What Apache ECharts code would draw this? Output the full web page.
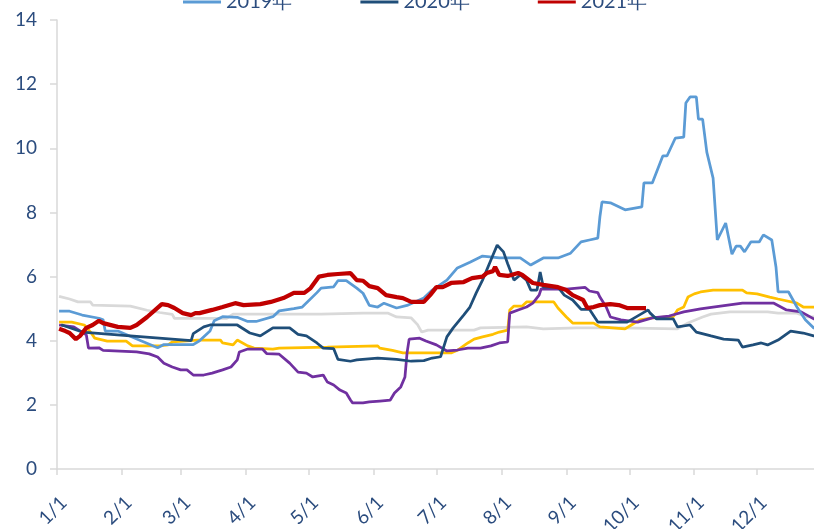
<!DOCTYPE html>
<html>
<head>
<meta charset="utf-8">
<script src="https://cdn.jsdelivr.net/npm/echarts@6/dist/echarts.min.js"></script>
<style>
  html, body { margin: 0; padding: 0; background: #fff; }
  #main { width: 814px; height: 529px; }
</style>
</head>
<body>
<div id="main"></div>
<script>
// 横轴：一年中的第几天（0 = 1/1），刻度在每月1日
var monthStartDays = [0, 31, 59, 90, 120, 151, 181, 212, 243, 273, 304, 334];
var monthLabels = ["1/1", "2/1", "3/1", "4/1", "5/1", "6/1", "7/1", "8/1", "9/1", "10/1", "11/1", "12/1"];
var yTicks = [0, 2, 4, 6, 8, 10, 12, 14];

// [天, 数值]
var data2016 = [[1,5.38],[6,5.3],[10,5.21],[16,5.21],[17,5.11],[35,5.08],[43,4.95],[49,4.88],[55,4.82],[56,4.7],[81,4.7],[84,4.83],[126,4.83],[146,4.86],[158,4.86],[162,4.74],[169,4.71],[172,4.5],[174,4.27],[177,4.33],[199,4.33],[202,4.4],[224,4.43],[232,4.37],[248,4.4],[269,4.4],[296,4.37],[301,4.55],[308,4.74],[312,4.83],[321,4.9],[339,4.9],[344,4.86],[353,4.86],[358,4.74],[364,4.74]];

var data2017 = [[1,4.58],[7,4.58],[13,4.49],[16,4.27],[18,4.08],[24,3.99],[33,3.99],[36,3.84],[49,3.84],[53,3.87],[55,3.96],[67,4.02],[78,4.02],[79,3.93],[84,3.87],[86,4.02],[91,3.84],[94,3.77],[103,3.74],[106,3.77],[129,3.8],[153,3.84],[154,3.77],[160,3.7],[165,3.62],[188,3.62],[191,3.7],[196,3.93],[199,4.05],[203,4.12],[208,4.2],[211,4.27],[215,4.33],[216,4.96],[218,5.08],[222,5.08],[224,5.21],[237,5.21],[239,5.02],[243,4.74],[246,4.55],[256,4.55],[259,4.43],[271,4.37],[274,4.49],[278,4.65],[284,4.71],[294,4.75],[296,4.96],[299,5.05],[301,5.36],[304,5.46],[307,5.52],[313,5.58],[327,5.58],[329,5.49],[334,5.46],[340,5.36],[344,5.3],[353,5.17],[356,5.05],[364,5.05]];

var data2018 = [[1,4.49],[8,4.43],[12,4.27],[14,4.18],[15,3.77],[20,3.78],[22,3.7],[38,3.65],[44,3.59],[48,3.49],[51,3.3],[55,3.18],[59,3.09],[62,3.09],[65,2.93],[70,2.93],[74,2.99],[79,3.09],[83,3.18],[86,3.4],[87,3.65],[91,3.74],[98,3.74],[100,3.6],[106,3.58],[111,3.3],[115,3.02],[119,2.99],[122,2.87],[127,2.93],[129,2.71],[132,2.62],[135,2.46],[138,2.37],[140,2.15],[141,2.06],[146,2.06],[149,2.09],[154,2.12],[159,2.15],[161,2.37],[164,2.56],[166,2.87],[167,3.62],[168,4.05],[173,4.08],[176,3.99],[181,3.87],[186,3.68],[191,3.71],[196,3.77],[202,3.77],[207,3.84],[211,3.93],[215,3.96],[216,4.86],[220,4.96],[224,5.05],[227,5.17],[230,5.42],[231,5.62],[237,5.61],[243,5.61],[252,5.66],[254,5.55],[258,5.5],[259,5.36],[262,5.05],[264,4.74],[269,4.65],[277,4.58],[284,4.71],[292,4.77],[299,4.9],[307,4.99],[313,5.05],[327,5.17],[342,5.17],[348,4.96],[355,4.9],[361,4.68],[364,4.65]];

var data2019 = [[1,4.92],[6,4.92],[12,4.8],[20,4.7],[22,4.65],[23,4.3],[29,4.3],[48,3.78],[51,3.88],[65,3.88],[68,4.0],[73,4.3],[75,4.62],[79,4.75],[86,4.73],[91,4.6],[95,4.6],[103,4.75],[106,4.93],[113,5.0],[117,5.05],[124,5.5],[126,5.64],[132,5.68],[134,5.87],[138,5.87],[143,5.64],[146,5.48],[149,5.1],[153,5.05],[156,5.17],[162,5.02],[167,5.1],[175,5.33],[179,5.58],[186,5.89],[191,6.27],[197,6.45],[203,6.64],[211,6.58],[221,6.58],[226,6.36],[232,6.58],[239,6.58],[245,6.73],[250,7.08],[254,7.14],[258,7.2],[259,7.86],[260,8.33],[264,8.3],[271,8.08],[279,8.17],[280,8.92],[284,8.92],[289,9.76],[291,9.76],[295,10.32],[299,10.35],[300,11.41],[302,11.6],[305,11.6],[306,10.91],[308,10.91],[310,9.88],[313,9.07],[315,7.14],[319,7.67],[322,6.7],[324,6.95],[326,6.95],[328,6.77],[331,7.08],[335,7.08],[337,7.3],[341,7.14],[343,6.3],[344,5.52],[349,5.52],[353,5.05],[357,4.65],[361,4.4],[364,4.35]];

var data2020 = [[2,4.5],[12,4.27],[64,4.0],[65,4.22],[70,4.43],[73,4.49],[86,4.49],[92,4.24],[97,4.15],[103,4.4],[111,4.4],[115,4.2],[119,4.15],[124,3.93],[127,3.77],[132,3.75],[134,3.42],[140,3.36],[143,3.4],[153,3.46],[162,3.42],[169,3.36],[175,3.38],[179,3.46],[183,3.5],[186,4.12],[189,4.4],[194,4.8],[197,5.05],[200,5.49],[203,5.89],[208,6.67],[210,6.98],[213,6.77],[215,6.4],[218,5.89],[221,6.05],[224,5.89],[226,5.58],[229,5.58],[230.5,6.14],[232,5.67],[239,5.67],[242,5.42],[246,5.27],[250,4.98],[254,4.98],[258,4.58],[272,4.58],[282,4.96],[283,4.86],[286,4.68],[294,4.68],[296,4.43],[302,4.49],[305,4.27],[312,4.15],[318,4.05],[325,4.02],[327,3.8],[332,3.87],[336,3.93],[339,3.87],[344,4.02],[350,4.3],[356,4.24],[361,4.15],[364,4.12]];

var data2021 = [[1,4.37],[4,4.3],[6,4.24],[9,4.05],[11,4.15],[14,4.4],[17,4.49],[20,4.62],[22,4.55],[29,4.43],[35,4.4],[38,4.49],[43,4.74],[50,5.14],[53,5.11],[56,5.02],[60,4.86],[64,4.8],[66,4.86],[68,4.86],[74,4.96],[79,5.05],[85,5.17],[89,5.11],[97,5.14],[102,5.21],[108,5.33],[113,5.49],[118,5.49],[121,5.64],[125,6.0],[129,6.05],[134,6.08],[140,6.11],[143,5.89],[146,5.87],[149,5.7],[153,5.64],[157,5.42],[162,5.36],[165,5.33],[169,5.21],[175,5.21],[178,5.42],[181,5.67],[184,5.67],[188,5.8],[194,5.83],[198,5.95],[203,6.0],[205,6.11],[208,6.17],[209,6.3],[211,6.05],[215,6.02],[220,6.11],[222,6.05],[227,5.8],[232,5.74],[239,5.67],[243,5.58],[246,5.42],[251,5.27],[253,5.02],[256,5.05],[259,5.11],[264,5.14],[268,5.11],[272,5.02],[281,5.02]];

var textColor = "#2B4C7E";
var axisGray = "#D9D9D9";

function line(name, data, color, width) {
  return {
    name: name,
    type: "line",
    data: data,
    symbol: "none",
    smooth: false,
    lineStyle: { color: color, width: width },
    itemStyle: { color: color }
  };
}

var myChart = echarts.init(document.getElementById("main"));
myChart.setOption({
  animation: false,
  textStyle: { fontFamily: "Lato" },
  legend: {
    data: ["2019年", "2020年", "2021年"],
    icon: "rect",
    top: -13,
    left: 178,
    itemWidth: 38,
    itemHeight: 3,
    itemGap: 68,
    textStyle: { color: textColor, fontSize: 20, fontFamily: "Lato" }
  },
  grid: { left: 57, top: 20, width: 763, bottom: 60, outerBoundsMode: "none" },
  xAxis: {
    type: "value",
    min: 0,
    max: 364,
    splitLine: { show: false },
    axisLine: { lineStyle: { color: axisGray, width: 1.5 } },
    axisTick: { customValues: monthStartDays, length: 6, lineStyle: { color: axisGray, width: 1.5 } },
    axisLabel: {
      customValues: monthStartDays,
      rotate: 45,
      margin: 24,
      verticalAlign: "top",
      color: textColor,
      fontSize: 19,
      formatter: function (v) {
        var i = monthStartDays.indexOf(v);
        return i >= 0 ? monthLabels[i] : "";
      }
    }
  },
  yAxis: {
    type: "value",
    min: yTicks[0],
    max: yTicks[yTicks.length - 1],
    interval: 2,
    splitLine: { show: false },
    axisLine: { show: true, lineStyle: { color: axisGray, width: 1.5 } },
    axisTick: { show: true, length: 7, lineStyle: { color: axisGray, width: 1.5 } },
    axisLabel: { color: textColor, fontSize: 19, margin: 20 }
  },
  series: [
    line("2016年", data2016, "#D9D9D9", 2.75),
    line("2017年", data2017, "#FFC000", 2.75),
    line("2018年", data2018, "#7030A0", 2.75),
    line("2019年", data2019, "#5B9BD5", 2.75),
    line("2020年", data2020, "#1F4E79", 2.75),
    line("2021年", data2021, "#C00000", 4.25)
  ]
});
</script>
</body>
</html>
